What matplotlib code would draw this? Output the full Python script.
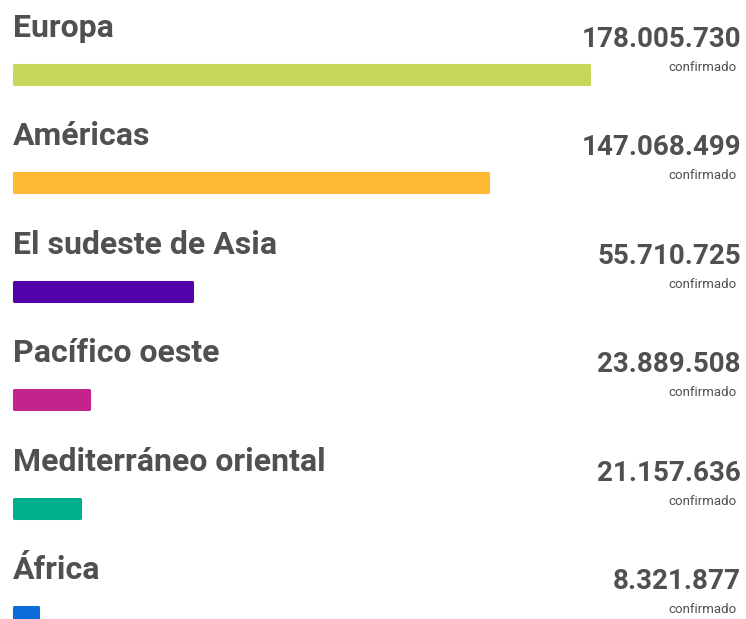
import matplotlib.pyplot as plt

# Casos confirmados por región de la OMS
regiones = ['Europa', 'Américas', 'El sudeste de Asia', 'Pacífico oeste',
            'Mediterráneo oriental', 'África']
casos = [178005730, 147068499, 55710725, 23889508, 21157636, 8321877]
etiquetas = ['178.005.730', '147.068.499', '55.710.725', '23.889.508',
             '21.157.636', '8.321.877']
colores = ['#C8D65B', '#FDB933', '#5200AA', '#C4228C', '#00B08D', '#0D6CD9']

fuente = 'Roboto'

W, H = 746, 619
fig = plt.figure(figsize=(W / 100, H / 100), dpi=100)
ax = fig.add_axes([0, 0, 1, 1])

# escala: el valor máximo ocupa 577 px empezando en x=13
escala = casos[0] / 577
ax.set_xlim(-13 * escala, (W - 13) * escala)
# filas separadas 108.4 px, la primera centrada en y=74.5
y0, paso = 74.5, 108.4
ax.set_ylim((H - y0) / paso, -y0 / paso)

alto = 19 / paso
for i, (v, c) in enumerate(zip(casos, colores)):
    ax.barh(i, v - 3 * escala, left=1.5 * escala, height=alto, color=c,
            edgecolor=c, linewidth=2.2, joinstyle='round')

gris = '#505050'
for i, (r, e) in enumerate(zip(regiones, etiquetas)):
    ax.annotate(r, xy=(0, i), xytext=(0, 37.5 * 0.72), textcoords='offset points',
                ha='left', va='baseline', fontsize=23, fontweight='bold',
                family=fuente, color=gris)
    ax.annotate(e, xy=(1, i), xycoords=('axes fraction', 'data'),
                xytext=(-5 * 0.72, 27.5 * 0.72), textcoords='offset points',
                ha='right', va='baseline', fontsize=20, fontweight='bold',
                family=fuente, color=gris)
    ax.annotate('confirmado', xy=(1, i), xycoords=('axes fraction', 'data'),
                xytext=(-9 * 0.72, 3.5 * 0.72), textcoords='offset points',
                ha='right', va='baseline', fontsize=9.5, family=fuente, color=gris)

ax.axis('off')
fig.savefig('out.png', dpi=100)
